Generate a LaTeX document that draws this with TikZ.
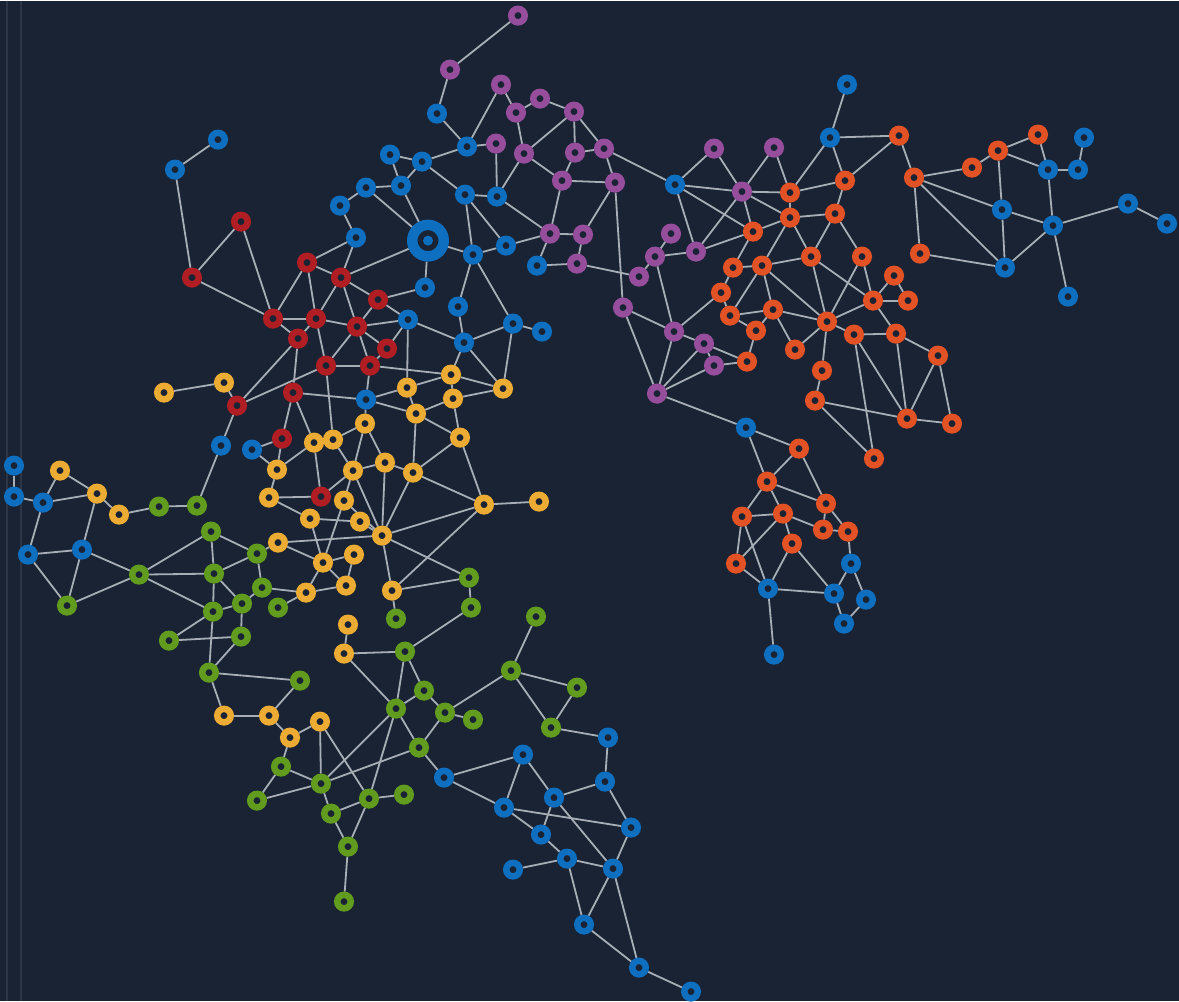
\documentclass[tikz,border=0pt]{standalone}
\usepackage{tikz}
\definecolor{bgnavy}{RGB}{25,35,51}
\definecolor{seamgray}{RGB}{44,54,70}
\definecolor{linkgray}{RGB}{168,174,182}
\definecolor{netblue}{RGB}{14,110,192}
\definecolor{netpurple}{RGB}{150,78,156}
\definecolor{netorange}{RGB}{226,82,36}
\definecolor{netred}{RGB}{176,30,36}
\definecolor{netyellow}{RGB}{236,172,52}
\definecolor{netgreen}{RGB}{98,156,30}
\pgfdeclarelayer{back}
\pgfsetlayers{back,main}
\tikzset{
  link/.style={draw=linkgray,line width=0.9pt},
  seam/.style={draw=seamgray,line width=0.6pt},
  dot/.style={circle,inner sep=0pt,minimum size=6.75pt,line width=3.25pt,fill=bgnavy},
  bluedot/.style={dot,draw=netblue},
  purpledot/.style={dot,draw=netpurple},
  orangedot/.style={dot,draw=netorange},
  reddot/.style={dot,draw=netred},
  yellowdot/.style={dot,draw=netyellow},
  greendot/.style={dot,draw=netgreen},
  hub/.style={circle,inner sep=0pt,minimum size=15.75pt,line width=5.25pt,draw=netblue,fill=bgnavy}
}
\begin{document}
\begin{tikzpicture}[x=0.5pt,y=-0.5pt]
  \begin{pgfonlayer}{back}
    \fill[bgnavy] (0,0) rectangle (1179,1000);
    \draw[seam] (7,0) -- (7,1000);
    \draw[seam] (21,0) -- (21,1000);
  \end{pgfonlayer}
  \useasboundingbox (0,0) rectangle (1179,1000);

  % blue
  \foreach \n/\x/\y in {bl1/218/139, bl2/175/169, bl3/390/154, bl4/422/161, bl5/401/185, bl6/366/187,
    bl7/340/205, bl8/356/237, bl9/437/113, bl10/467/146, bl11/465/194, bl12/497/196, bl13/473/254,
    bl14/506/245, bl15/425/287, bl16/458/306, bl17/408/319, bl18/464/342, bl19/513/323, bl20/542/331,
    bl21/537/265, bl22/366/399, bl23/221/445, bl24/252/449, bl25/14/465, bl26/14/496, bl27/43/502,
    bl28/28/554, bl29/82/549, bl30/675/184, bl31/847/84, bl32/830/137, bl33/1084/137, bl34/1048/169,
    bl35/1078/169, bl36/1002/209, bl37/1053/225, bl38/1128/203, bl39/1167/223, bl40/1005/267,
    bl41/1068/296, bl42/746/427, bl43/851/563, bl44/768/588, bl45/834/593, bl46/866/599, bl47/844/623,
    bl48/774/654, bl49/608/737, bl50/523/754, bl51/444/777, bl52/605/781, bl53/554/797, bl54/504/807,
    bl55/631/827, bl56/541/834, bl57/567/858, bl58/513/869, bl59/613/868, bl60/584/924, bl61/639/967,
    bl62/691/991}
    \node[bluedot] (\n) at (\x,\y) {};
  \node[hub] (hub) at (428,240) {};
  \fill[netblue] (hub.center) circle (5);

  % purple
  \foreach \n/\x/\y in {pu1/518/15, pu2/450/69, pu3/501/84, pu4/516/112, pu5/540/98, pu6/574/111,
    pu7/496/143, pu8/524/153, pu9/575/152, pu10/604/148, pu11/562/180, pu12/615/182, pu13/550/233,
    pu14/583/234, pu15/577/263, pu16/639/276, pu17/655/256, pu18/671/233, pu19/696/251, pu20/714/148,
    pu21/774/147, pu22/742/191, pu23/623/307, pu24/674/331, pu25/704/343, pu26/714/365, pu27/657/393}
    \node[purpledot] (\n) at (\x,\y) {};

  % orange
  \foreach \n/\x/\y in {or1/790/192, or2/790/217, or3/753/231, or4/845/180, or5/835/213, or6/899/135,
    or7/811/256, or8/862/256, or9/914/177, or10/972/167, or11/998/150, or12/1038/134, or13/920/253,
    or14/733/267, or15/762/265, or16/721/292, or17/730/315, or18/773/309, or19/756/330, or20/747/361,
    or21/894/275, or22/873/300, or23/908/300, or24/827/321, or25/854/334, or26/896/333, or27/795/349,
    or28/938/355, or29/822/370, or30/815/400, or31/907/418, or32/952/423, or33/799/448, or34/874/458,
    or35/767/481, or36/826/503, or37/742/516, or38/783/513, or39/823/529, or40/848/531, or41/792/543,
    or42/736/563}
    \node[orangedot] (\n) at (\x,\y) {};

  % red
  \foreach \n/\x/\y in {rd1/192/277, rd2/241/221, rd3/307/262, rd4/341/277, rd5/378/299, rd6/273/318,
    rd7/316/318, rd8/357/326, rd9/298/338, rd10/387/348, rd11/326/365, rd12/370/365, rd13/293/392,
    rd14/237/405, rd15/282/438, rd16/321/496}
    \node[reddot] (\n) at (\x,\y) {};

  % yellow
  \foreach \n/\x/\y in {ye1/164/392, ye2/224/382, ye3/451/374, ye4/407/387, ye5/503/388, ye6/453/398,
    ye7/416/413, ye8/365/423, ye9/460/437, ye10/314/442, ye11/333/439, ye12/277/469, ye13/353/470,
    ye14/385/462, ye15/413/472, ye16/269/497, ye17/344/500, ye18/484/504, ye19/539/501, ye20/310/518,
    ye21/360/521, ye22/382/535, ye23/278/542, ye24/323/562, ye25/354/554, ye26/346/585, ye27/306/592,
    ye28/392/590, ye29/348/624, ye30/344/653, ye31/60/470, ye32/97/493, ye33/119/514, ye34/224/715,
    ye35/269/715, ye36/290/737, ye37/320/721}
    \node[yellowdot] (\n) at (\x,\y) {};

  % green
  \foreach \n/\x/\y in {gr1/159/506, gr2/197/505, gr3/139/574, gr4/67/605, gr5/211/531, gr6/257/553,
    gr7/214/573, gr8/262/587, gr9/242/603, gr10/278/607, gr11/213/611, gr12/169/640, gr13/241/636,
    gr14/209/672, gr15/300/680, gr16/469/577, gr17/471/607, gr18/396/618, gr19/536/616, gr20/405/651,
    gr21/511/670, gr22/577/687, gr23/424/690, gr24/396/708, gr25/445/712, gr26/473/719, gr27/551/727,
    gr28/419/747, gr29/281/766, gr30/257/800, gr31/321/783, gr32/331/813, gr33/369/798, gr34/404/794,
    gr35/348/846, gr36/344/901}
    \node[greendot] (\n) at (\x,\y) {};

  % links
  \begin{pgfonlayer}{back}
  \foreach \a/\b in {bl1/bl2, bl2/rd1, rd2/rd1, rd2/rd6, rd1/rd6,
    bl3/bl4, bl3/bl5, bl4/bl5, bl4/bl10, bl4/bl11, bl6/bl5, bl6/bl7, bl7/bl8, bl6/hub, bl5/hub,
    bl9/bl10, bl9/pu2, bl11/bl12, bl11/bl13, bl11/bl14, bl13/bl14, hub/bl13, hub/bl15, bl13/bl16,
    bl13/bl19, bl16/bl18, bl17/bl18, bl18/bl19, bl19/bl20, bl21/pu13, bl21/pu15,
    bl8/rd3, bl8/rd4, rd4/hub, rd3/rd4, rd3/rd6, rd3/rd7, rd4/rd7, rd4/rd8, rd4/rd5, rd5/rd8,
    rd5/bl15, rd5/bl17, rd6/rd7, rd6/rd9, rd7/rd9, rd7/rd11, rd7/rd8, rd8/rd11, rd8/rd12, rd8/bl17,
    rd8/rd10, rd10/rd12, rd10/bl17, rd11/rd12, rd11/ye11, rd12/bl22, rd12/ye3, rd14/rd9, rd14/rd11,
    rd13/rd9, rd13/bl22, rd13/rd15, rd13/ye10, rd15/bl24, rd15/ye12, ye2/rd14, ye1/ye2, rd14/bl23,
    bl23/gr2}
    \draw[link] (\a) -- (\b);
  \foreach \a/\b in {bl17/ye4, bl18/ye3, bl18/ye5, bl19/ye5, ye3/ye4, ye3/ye6, ye3/ye5, ye6/ye5,
    ye4/ye7, ye7/ye6, ye7/ye9, ye6/ye9, ye7/ye15, ye9/ye15, ye9/ye18, ye15/ye18, ye18/ye19, ye15/ye14,
    ye15/ye22, bl22/ye4, bl22/ye7, bl22/ye8, ye8/ye11, ye8/ye14, ye8/ye13, ye11/ye10, ye11/ye13,
    ye10/rd16, ye10/ye12, ye12/ye16, ye16/rd16, ye16/ye20, rd16/ye13, ye13/ye14, ye13/ye17, ye13/ye22,
    ye14/ye22, ye22/ye18, ye18/ye28, ye22/ye28, ye22/ye23, ye22/ye21, ye22/ye17, ye22/gr16, ye17/ye24,
    ye20/ye21, ye20/ye24, ye24/ye25, ye24/ye26, ye24/ye27, ye25/ye26, ye27/ye26, ye27/gr10, ye27/gr8,
    ye23/gr6, ye23/ye24, ye28/gr16, ye28/gr18, ye29/ye30, ye30/gr20, ye30/gr24, bl24/ye12,
    ye31/ye32, ye31/bl27, bl27/ye32, ye32/ye33, ye32/bl29, ye33/gr1, gr1/gr2, bl25/bl26, bl26/bl27,
    bl27/bl28, bl28/bl29, bl28/gr4, bl29/gr4, bl29/gr3, gr4/gr3}
    \draw[link] (\a) -- (\b);
  \foreach \a/\b in {gr3/gr5, gr3/gr7, gr3/gr11, gr5/gr6, gr5/gr7, gr7/gr6, gr7/gr11, gr7/gr9,
    gr6/gr8, gr8/gr9, gr9/gr11, gr9/gr13, gr11/gr12, gr11/gr14, gr12/gr13, gr13/gr14, gr14/gr15,
    gr14/ye34, gr15/ye35, ye34/ye35, ye35/ye36, ye36/ye37, ye36/gr29, ye37/gr31, ye37/gr33,
    gr16/gr17, gr17/gr20, gr19/gr21, gr21/gr22, gr21/gr27, gr22/gr27, gr21/gr25, gr20/gr23, gr20/gr24,
    gr23/gr25, gr24/gr23, gr25/gr26, gr25/gr28, gr24/gr28, gr29/gr30, gr29/gr31, gr30/gr31, gr31/gr24,
    gr31/gr28, gr31/gr32, gr32/gr33, gr33/gr34, gr32/gr35, gr33/gr35, gr35/gr36, gr33/gr24,
    gr28/bl51, gr27/bl49,
    bl49/bl52, bl52/bl53, bl52/bl55, bl50/bl53, bl50/bl54, bl51/bl50, bl51/bl54, bl54/bl55, bl54/bl56,
    bl53/bl56, bl53/bl59, bl56/bl57, bl58/bl57, bl57/bl59, bl55/bl59, bl57/bl60, bl59/bl60, bl59/bl61,
    bl60/bl61, bl61/bl62}
    \draw[link] (\a) -- (\b);
  \foreach \a/\b in {pu1/pu2, pu3/bl10, pu3/pu4, pu4/pu5, pu5/pu6, pu4/pu8, pu6/pu8, pu6/pu9,
    pu6/pu10, pu9/pu10, pu9/pu11, pu8/pu11, pu7/bl10, pu7/bl12, pu8/bl12, pu10/pu12, pu11/pu12,
    pu11/pu13, pu12/pu14, pu12/pu23, pu10/bl30, pu13/pu14, pu13/bl12, pu13/bl14, pu14/pu15, pu15/pu16,
    pu16/pu17, pu17/pu18, pu17/pu19, pu17/pu24, pu23/pu24, pu23/pu27, pu24/pu27, pu24/pu25, pu24/or16,
    pu25/pu27, pu25/pu26, pu26/pu27, pu25/or20, pu26/or20, pu27/bl42, bl30/pu20, bl30/pu22, bl30/or3,
    bl30/pu19, pu20/pu22, pu21/pu22, pu21/or1, pu22/or1, pu22/or2, pu22/or3, pu22/pu19, pu19/or3}
    \draw[link] (\a) -- (\b);
  \foreach \a/\b in {or3/or2, or14/or3, or15/or2, or14/or15, or14/or16, or16/or17, or15/or17,
    or15/or18, or17/or18, or17/or19, or18/or19, or19/or20, or15/or7, or15/or24, or18/or24, or18/or27,
    bl31/bl32, bl32/or6, bl32/or1, bl32/or4, or6/or4, or6/or9, or4/or1, or4/or5, or1/or2, or2/or5,
    or2/or7, or5/or7, or5/or8, or9/or10, or9/bl36, or9/or13, or9/bl40, or10/or11, or11/or12,
    or11/bl34, or11/bl36, or12/bl34, bl34/bl35, bl35/bl33, bl34/bl37, bl36/bl37, bl36/bl40, bl37/bl40,
    bl37/bl38, bl38/bl39, bl37/bl41, or13/bl40, or7/or24, or7/or22, or8/or22, or8/or24, or21/or22,
    or21/or23, or22/or23, or22/or24, or22/or26, or24/or25, or25/or26, or24/or27, or24/or29,
    or29/or30, or25/or34, or25/or31, or26/or28, or26/or31, or28/or31, or28/or32, or31/or32,
    or30/or31, or30/or34, bl42/or33, bl42/or35, or33/or35, or33/or36, or35/or36, or35/or37,
    or35/or38, or37/or38, or37/or42, or37/bl44, or38/or42, or38/or39, or38/or41, or36/or39,
    or36/or40, or39/or40, or40/bl43, or41/bl44, or41/bl45, or42/bl44, bl44/bl45, bl44/bl48,
    bl43/bl45, bl43/bl46, bl45/bl47, bl46/bl47}
    \draw[link] (\a) -- (\b);
  \end{pgfonlayer}
\end{tikzpicture}
\end{document}
